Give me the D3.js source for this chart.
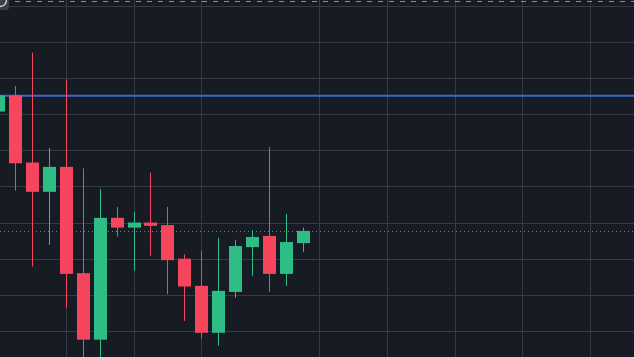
<!DOCTYPE html>
<html>
<head>
<meta charset="utf-8">
<script src="https://cdn.jsdelivr.net/npm/d3@7"></script>
<style>
  html, body { margin: 0; padding: 0; background: #171b24; overflow: hidden; }
</style>
</head>
<body>
<div id="chart"></div>
<script>
var svgWidth = 634;
var svgHeight = 357;

// candles (index 0 is cut by the left edge)
var open  = [106.07, 106.52, 104.66, 103.85, 104.54, 101.60, 99.76, 103.13, 102.86, 103.00, 102.93, 102.00, 101.25, 99.95, 101.08, 102.32, 102.63, 101.58, 102.43];
var high  = [106.67, 106.78, 107.70, 105.06, 106.96, 104.50, 103.93, 103.43, 103.29, 104.38, 103.43, 102.12, 102.21, 102.58, 102.52, 102.79, 105.08, 103.24, 102.86];
var low   = [105.89, 103.88, 101.78, 102.38, 100.64, 98.92, 99.06, 102.61, 101.67, 102.08, 101.02, 100.28, 99.80, 99.59, 100.92, 101.53, 101.08, 101.25, 102.19];
var close = [106.52, 104.64, 103.85, 104.54, 101.58, 99.76, 103.13, 102.86, 103.00, 102.91, 101.96, 101.23, 99.95, 101.11, 102.35, 102.60, 101.58, 102.46, 102.77];

var priceTicks = [100, 101, 102, 103, 104, 105, 106, 107, 108, 109];
var timeTicks = [4, 8, 12, 19, 23, 27, 31, 35];
var alertLevel = 106.51;

var data = open.map(function(o, i) {
  return { i: i, open: o, high: high[i], low: low[i], close: close[i] };
});

var svg = d3.select("#chart")
  .append("svg")
  .attr("width", svgWidth)
  .attr("height", svgHeight);

svg.append("rect")
  .attr("width", svgWidth)
  .attr("height", svgHeight)
  .attr("fill", "#171b24");

var xScale = d3.scaleLinear()
  .domain([0, 18])
  .range([-1.6, 302.5]);

var yScale = d3.scaleLinear()
  .domain([100, 109])
  .range([331, 5.65]);

var step = xScale(1) - xScale(0);

// grid
svg.append("g")
  .selectAll("line")
  .data(priceTicks)
  .enter()
  .append("line")
  .attr("x1", 0)
  .attr("x2", svgWidth)
  .attr("y1", d => Math.round(yScale(d)) + 0.5)
  .attr("y2", d => Math.round(yScale(d)) + 0.5)
  .attr("stroke", "#363a44")
  .attr("stroke-width", 1);

svg.append("g")
  .selectAll("line")
  .data(timeTicks)
  .enter()
  .append("line")
  .attr("x1", d => Math.round(xScale(d)) + 0.5)
  .attr("x2", d => Math.round(xScale(d)) + 0.5)
  .attr("y1", 0)
  .attr("y2", svgHeight)
  .attr("stroke", "#363a44")
  .attr("stroke-width", 1);

// dashed line at the very top
svg.append("line")
  .attr("x1", 0)
  .attr("x2", svgWidth)
  .attr("y1", 1.5)
  .attr("y2", 1.5)
  .attr("stroke", "#8d9097")
  .attr("stroke-width", 1)
  .attr("stroke-dasharray", "5,6")
  .attr("stroke-dashoffset", -4);

// blue horizontal level
svg.append("line")
  .attr("x1", 0)
  .attr("x2", svgWidth)
  .attr("y1", yScale(alertLevel))
  .attr("y2", yScale(alertLevel))
  .attr("stroke", "#3a66d4")
  .attr("stroke-width", 2);

// last price dotted line
var last = close[close.length - 1];
svg.append("line")
  .attr("x1", 0)
  .attr("x2", svgWidth)
  .attr("y1", Math.round(yScale(last)) + 0.5)
  .attr("y2", Math.round(yScale(last)) + 0.5)
  .attr("stroke", "#2ebd85")
  .attr("stroke-opacity", 0.9)
  .attr("stroke-width", 1)
  .attr("stroke-dasharray", "1,3");

var upColor = "#2ebd85";
var downColor = "#f6465d";

var candles = svg.append("g")
  .selectAll("g")
  .data(data)
  .enter()
  .append("g");

candles.append("rect")
  .attr("x", d => Math.round(xScale(d.i)))
  .attr("y", d => yScale(d.high))
  .attr("width", 1)
  .attr("height", d => yScale(d.low) - yScale(d.high))
  .attr("fill", d => d.close >= d.open ? upColor : downColor);

candles.append("rect")
  .attr("x", d => Math.round(xScale(d.i)) - 6)
  .attr("y", d => yScale(Math.max(d.open, d.close)))
  .attr("width", 13)
  .attr("height", d => Math.max(1, Math.abs(yScale(d.open) - yScale(d.close))))
  .attr("fill", d => d.close >= d.open ? upColor : downColor);

// little button in the corner
svg.append("rect")
  .attr("x", -12)
  .attr("y", -12)
  .attr("width", 21)
  .attr("height", 22)
  .attr("rx", 3)
  .attr("fill", "#3c3f47");

svg.append("circle")
  .attr("cx", 0)
  .attr("cy", 0)
  .attr("r", 6.5)
  .attr("fill", "none")
  .attr("stroke", "#d8d9dc")
  .attr("stroke-width", 1.3);
</script>
</body>
</html>
